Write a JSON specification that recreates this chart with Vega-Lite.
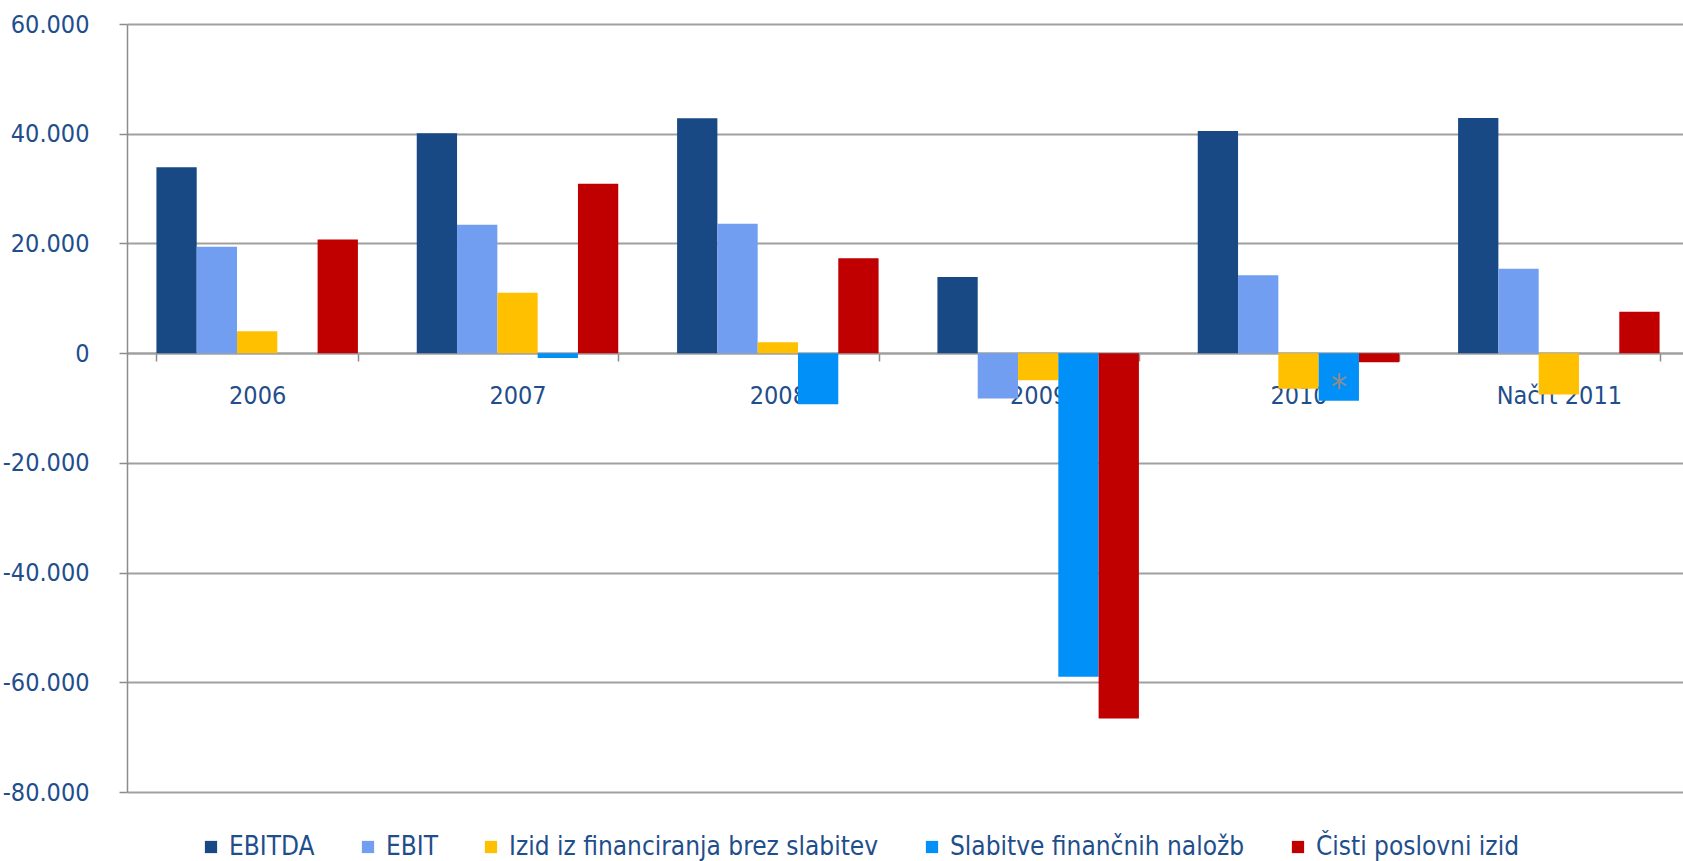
{
  "$schema": "https://vega.github.io/schema/vega-lite/v6.json",
  "width": 1556,
  "height": 768,
  "autosize": {"type": "none"},
  "padding": {"left": 127, "top": 24, "right": 0, "bottom": 69},
  "background": "white",
  "config": {
    "view": {"stroke": null},
    "font": "DejaVu Sans Condensed"
  },
  "datasets": {
    "bars": [
      {"year": "2006", "series": "EBITDA", "value": 33900},
      {"year": "2006", "series": "EBIT", "value": 19400},
      {"year": "2006", "series": "Izid iz financiranja brez slabitev", "value": 4000},
      {"year": "2006", "series": "Slabitve finančnih naložb", "value": 0},
      {"year": "2006", "series": "Čisti poslovni izid", "value": 20700},
      {"year": "2007", "series": "EBITDA", "value": 40100},
      {"year": "2007", "series": "EBIT", "value": 23400},
      {"year": "2007", "series": "Izid iz financiranja brez slabitev", "value": 11000},
      {"year": "2007", "series": "Slabitve finančnih naložb", "value": -900},
      {"year": "2007", "series": "Čisti poslovni izid", "value": 30900},
      {"year": "2008", "series": "EBITDA", "value": 42800},
      {"year": "2008", "series": "EBIT", "value": 23600},
      {"year": "2008", "series": "Izid iz financiranja brez slabitev", "value": 2000},
      {"year": "2008", "series": "Slabitve finančnih naložb", "value": -9300},
      {"year": "2008", "series": "Čisti poslovni izid", "value": 17300},
      {"year": "2009", "series": "EBITDA", "value": 13900},
      {"year": "2009", "series": "EBIT", "value": -8250},
      {"year": "2009", "series": "Izid iz financiranja brez slabitev", "value": -4950},
      {"year": "2009", "series": "Slabitve finančnih naložb", "value": -59000},
      {"year": "2009", "series": "Čisti poslovni izid", "value": -66600},
      {"year": "2010", "series": "EBITDA", "value": 40500},
      {"year": "2010", "series": "EBIT", "value": 14200},
      {"year": "2010", "series": "Izid iz financiranja brez slabitev", "value": -6500},
      {"year": "2010", "series": "Slabitve finančnih naložb", "value": -8700},
      {"year": "2010", "series": "Čisti poslovni izid", "value": -1650},
      {"year": "Načrt 2011", "series": "EBITDA", "value": 42850},
      {"year": "Načrt 2011", "series": "EBIT", "value": 15400},
      {"year": "Načrt 2011", "series": "Izid iz financiranja brez slabitev", "value": -7550},
      {"year": "Načrt 2011", "series": "Slabitve finančnih naložb", "value": 0},
      {"year": "Načrt 2011", "series": "Čisti poslovni izid", "value": 7550}
    ],
    "notes": [
      {"year": "2010", "series": "Slabitve finančnih naložb", "value": -8300, "label": "*"}
    ]
  },
  "encoding": {
    "x": {
      "field": "year",
      "type": "nominal",
      "sort": null,
      "scale": {"domain": ["2006", "2007", "2008", "2009", "2010", "Načrt 2011"], "range": [0, 1562], "paddingInner": 0.226, "paddingOuter": 0.113},
      "axis": {
        "title": null,
        "orient": "bottom",
        "offset": -439,
        "labelAngle": 0,
        "labelFontSize": 25,
        "labelColor": "#1F4E8C",
        "labelPadding": 22,
        "labelBaseline": "top",
        "domainColor": "#A0A0A0",
        "domainWidth": 2,
        "tickColor": "#8C8C8C",
        "tickWidth": 1.5,
        "tickSize": 8,
        "tickBand": "extent",
        "grid": false
      }
    },
    "xOffset": {
      "field": "series",
      "type": "nominal",
      "scale": {"domain": ["EBITDA", "EBIT", "Izid iz financiranja brez slabitev", "Slabitve finančnih naložb", "Čisti poslovni izid"], "paddingInner": 0, "paddingOuter": 0}
    },
    "y": {
      "field": "value",
      "type": "quantitative",
      "scale": {"domain": [-80000, 60000], "nice": false, "zero": false},
      "axis": {
        "title": null,
        "values": [-80000, -60000, -40000, -20000, 0, 20000, 40000, 60000],
        "labelExpr": "(datum.value < 0 ? '-' : '') + replace(format(abs(datum.value), ','), ',', '.')",
        "labelFontSize": 25,
        "labelColor": "#1F4E8C",
        "labelPadding": 30,
        "domainColor": "#8C8C8C",
        "domainWidth": 1.5,
        "tickColor": "#8C8C8C",
        "tickSize": 8,
        "tickWidth": 1.5,
        "gridColor": "#A0A0A0",
        "gridWidth": 2,
        "gridOpacity": 1
      }
    }
  },
  "layer": [
    {
      "data": {"name": "bars"},
      "mark": {"type": "bar"},
      "encoding": {
        "color": {
          "field": "series",
          "type": "nominal",
          "sort": ["EBITDA", "EBIT", "Izid iz financiranja brez slabitev", "Slabitve finančnih naložb", "Čisti poslovni izid"],
          "scale": {
            "domain": ["EBITDA", "EBIT", "Izid iz financiranja brez slabitev", "Slabitve finančnih naložb", "Čisti poslovni izid"],
            "range": ["#184985", "#729EF2", "#FFC000", "#0090F8", "#C00000"]
          },
          "legend": {
            "title": null,
            "orient": "none",
            "direction": "horizontal",
            "legendX": 71,
            "legendY": 810,
            "symbolType": "square",
            "symbolSize": 150,
            "symbolStrokeWidth": 0,
            "labelFontSize": 26,
            "labelColor": "#1F4E8C",
            "labelOffset": 5,
            "columnPadding": 40,
            "labelLimit": 0
          }
        }
      }
    },
    {
      "data": {"name": "notes"},
      "mark": {"type": "text", "fontSize": 36, "color": "#8C8C8C", "baseline": "alphabetic", "align": "center"},
      "encoding": {
        "text": {"field": "label"}
      }
    }
  ]
}
